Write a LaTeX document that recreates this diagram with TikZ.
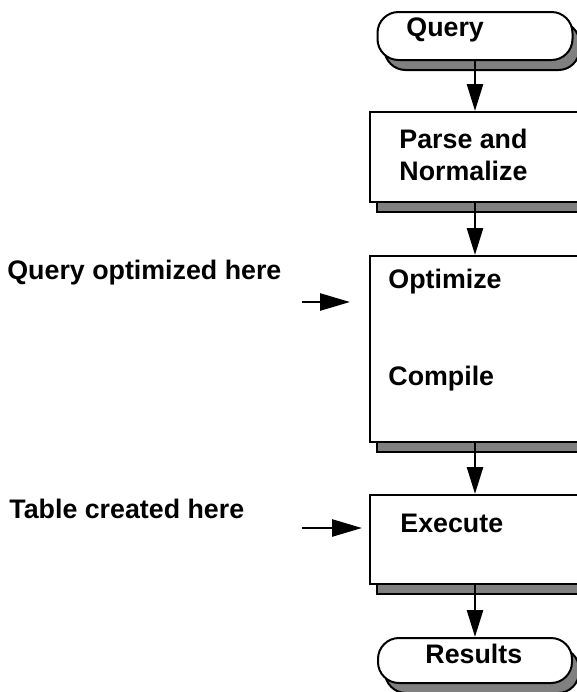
\documentclass[tikz,border=0pt]{standalone}
\usepackage{fontspec}
\setmainfont{Liberation Sans}
\usetikzlibrary{arrows.meta,shadows}

\begin{document}
\begin{tikzpicture}[x=0.5pt,y=-0.5pt,
        every node/.style={font=\fontsize{13.4}{16}\selectfont\bfseries},
        box/.style={draw,line width=1pt,fill=white,minimum width=105pt,inner sep=0pt,
            drop shadow={shadow xshift=3.5pt,shadow yshift=-5pt,opacity=1,fill=gray,draw=black,line width=1pt}},
        pill/.style={box,rounded corners=10.5pt,minimum width=97.5pt,minimum height=24pt},
        lbl/.style={anchor=base west,inner sep=0pt}]
        \tikzset{edge/.style = {line width=1.3pt,-{Triangle[length=13.5pt,width=8pt]}},
            sidedge/.style = {line width=1.3pt,-{Triangle[length=15pt,width=8.5pt]}}}
        \useasboundingbox (0,0) rectangle (577,692);
        
        \node[pill] (query) at (475,36) {};
        \node[box,minimum height=45pt] (parse) at (475,157) {};
        \node[box,minimum height=93pt] (opt) at (475,349) {};
        \node[box,minimum height=44.5pt] (exec) at (475,539.5) {};
        \node[pill,minimum width=97pt,minimum height=22.5pt] (res) at (475,660.5) {};
        
        \node[lbl] (tquery) at (406,36) {Query};
        \node[lbl] (tparse) at (399,148) {Parse and};
        \node[lbl] (tnorm) at (399,180) {Normalize};
        \node[lbl] (topt) at (388,288) {Optimize};
        \node[lbl] (tcomp) at (388,385) {Compile};
        \node[lbl] (texec) at (400,532) {Execute};
        \node[lbl] (tres) at (425,663) {Results};
        
        \node[lbl] (qhere) at (7,279) {Query optimized here};
        \node[lbl] (there) at (9,518) {Table created here};
        \coordinate (qa) at (302,302);
        \coordinate (qb) at (350,302);
        \coordinate (ta) at (302,528);
        \coordinate (tb) at (362,528);
        
        \draw[edge] (query) -- (parse);
        \draw[edge] (parse) -- (opt);
        \draw[edge] (opt) -- (exec);
        \draw[edge] (exec) -- (res);
        
        \draw[sidedge] (qa) -- (qb);
        \draw[sidedge] (ta) -- (tb);
\end{tikzpicture}
\end{document}
